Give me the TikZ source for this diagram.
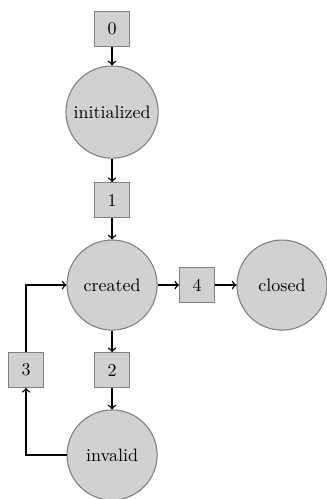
\documentclass[tikz,border=0pt]{standalone}
\begin{document}
\begin{tikzpicture}[line width=0.8pt,
  state/.style={circle,draw=gray,line width=0.6pt,fill=black!18,minimum size=1.76cm},
  trans/.style={rectangle,draw=gray,line width=0.6pt,fill=black!18,minimum size=0.68cm}]
\useasboundingbox (-2.19,-4.18) rectangle (4.18,5.57);
\node[trans] (t0) at (0,5) {0};
\node[state] (init) at (0,3.38) {initialized};
\node[trans] (t1) at (0,1.66) {1};
\node[state] (created) at (0,0) {created};
\node[trans] (t4) at (1.66,0) {4};
\node[state] (closed) at (3.32,0) {closed};
\node[trans] (t2) at (0,-1.66) {2};
\node[state] (invalid) at (0,-3.32) {invalid};
\node[trans] (t3) at (-1.68,-1.66) {3};
\draw[->] (t0) -- (init);
\draw[->] (init) -- (t1);
\draw[->] (t1) -- (created);
\draw[->] (created) -- (t4);
\draw[->] (t4) -- (closed);
\draw[->] (created) -- (t2);
\draw[->] (t2) -- (invalid);
\draw[->] (invalid.west) -| (t3);
\draw[->] (t3) |- (created);
\end{tikzpicture}
\end{document}
